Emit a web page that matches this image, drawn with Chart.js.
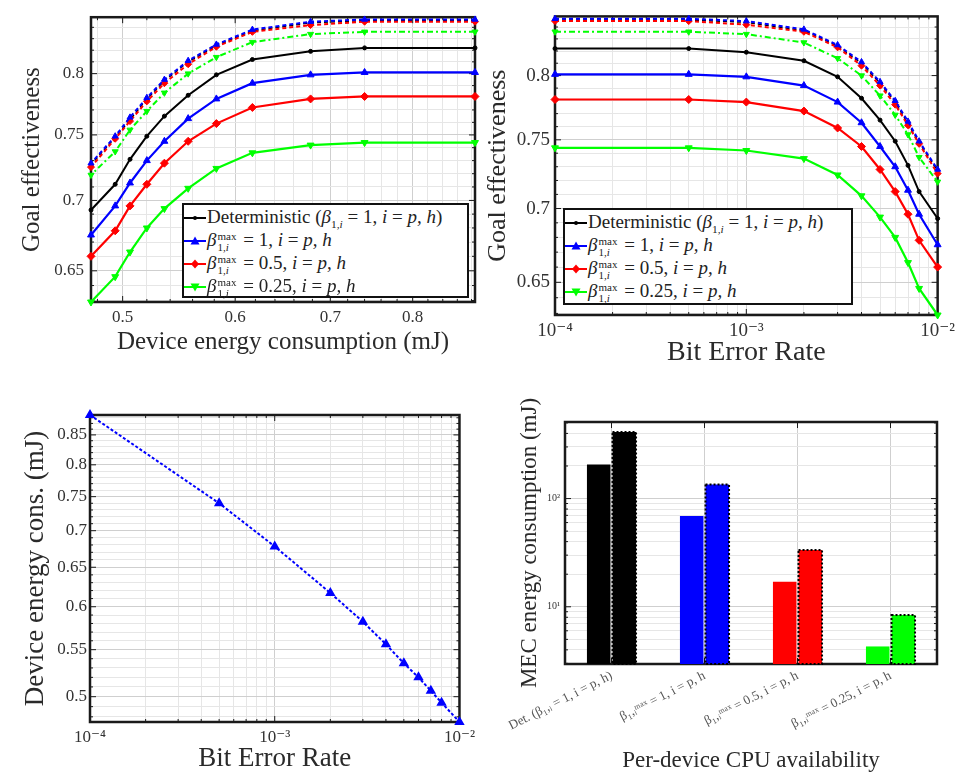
<!DOCTYPE html>
<html>
<head>
<meta charset="utf-8">
<script src="https://cdn.jsdelivr.net/npm/chart.js@4.4.1/dist/chart.umd.min.js"></script>
<style>
  body { margin: 0; background: #fff; }
  #lienzo { position: relative; width: 960px; height: 772px; overflow: hidden; font-family: "Liberation Serif", serif; }
  canvas { position: absolute; }
  .leyenda { position: absolute; border: 2px solid #111; background: #fff; box-sizing: border-box; padding: 1px 0 0 0; font-size: 19px; color: #222; }
  .fila { height: 23px; display: flex; align-items: center; white-space: nowrap; }
  .fila svg { flex: none; margin-right: 1px; }
  .ss { display: inline-flex; flex-direction: column; font-size: 0.58em; line-height: 0.95; vertical-align: middle; margin: 0 2px 0 1px; }
</style>
</head>
<body>
<div id="lienzo">
  <canvas id="chartEnergia" width="480" height="380" style="left:0;top:0"></canvas>
  <canvas id="chartBer" width="480" height="380" style="left:480px;top:0"></canvas>
  <canvas id="chartDispositivo" width="480" height="392" style="left:0;top:380px"></canvas>
  <canvas id="chartMec" width="480" height="392" style="left:480px;top:380px"></canvas>
  <div class="leyenda" id="leyenda1" style="left:182px;top:203px;width:287px;height:95px"></div>
  <div class="leyenda" id="leyenda2" style="left:563px;top:208px;width:290px;height:97px"></div>
</div>
<script>
// === Datos ===
const berValues = [1e-4, 5e-4, 1e-3, 2e-3, 3e-3, 4e-3, 5e-3, 6e-3, 7e-3, 8e-3, 1e-2];
const deviceEnergy = [0.885, 0.740, 0.678, 0.617, 0.582, 0.556, 0.535, 0.520, 0.506, 0.494, 0.475];

const goalDet = [0.822, 0.822, 0.819, 0.812, 0.799, 0.782, 0.765, 0.749, 0.731, 0.712, 0.693];
const goalBeta1 = [0.801, 0.801, 0.799, 0.792, 0.779, 0.763, 0.745, 0.730, 0.713, 0.696, 0.675];
const goalBeta05 = [0.781, 0.781, 0.779, 0.772, 0.759, 0.745, 0.728, 0.712, 0.696, 0.678, 0.660];
const goalBeta025 = [0.744, 0.744, 0.742, 0.736, 0.724, 0.709, 0.694, 0.680, 0.663, 0.646, 0.629];

const goalDetDash = [0.846, 0.846, 0.844, 0.837, 0.824, 0.810, 0.794, 0.779, 0.762, 0.748, 0.727];
const goalBeta1Dash = [0.847, 0.847, 0.845, 0.838, 0.825, 0.811, 0.795, 0.780, 0.764, 0.749, 0.728];
const goalBeta05Dash = [0.845, 0.845, 0.842, 0.836, 0.823, 0.808, 0.792, 0.777, 0.761, 0.747, 0.725];
const goalBeta025Dash = [0.836, 0.836, 0.834, 0.827, 0.814, 0.800, 0.784, 0.769, 0.754, 0.737, 0.719];

const cpuLabels = [
  "Det. (β₁,ᵢ = 1, i = p, h)",
  "β₁,ᵢᵐᵃˣ = 1, i = p, h",
  "β₁,ᵢᵐᵃˣ = 0.5, i = p, h",
  "β₁,ᵢᵐᵃˣ = 0.25, i = p, h"
];
const mecSolid = [207, 69, 17, 4.3];
const mecDotted = [412, 135, 33.5, 8.4];

const goalTicks = [0.65, 0.7, 0.75, 0.8];
const energyTicks = [0.5, 0.6, 0.7, 0.8];
const berTicks = [1e-4, 1e-3, 1e-2];
const deviceTicks = [0.5, 0.55, 0.6, 0.65, 0.7, 0.75, 0.8, 0.85];
const mecTicks = [10, 100];

// === Estilos ===
const NEGRO = "#000000", AZUL = "#0000ff", ROJO = "#ff0000", VERDE = "#00ff00";
const cpuColors = [NEGRO, AZUL, ROJO, VERDE];
const SERIF = "'Liberation Serif', 'DejaVu Serif', serif";
Chart.defaults.font.family = SERIF;
Chart.defaults.color = "#333";

const series = [
  { data: goalBeta1Dash, color: AZUL, point: "triangle", r: 3.5, rot: 0, dash: [4, 3], w: 2 },
  { data: goalBeta05Dash, color: ROJO, point: "rectRot", r: 3.5, rot: 0, dash: [4, 3], w: 2 },
  { data: goalDetDash, color: NEGRO, point: "circle", r: 1.5, rot: 0, dash: [4, 3], w: 1.5 },
  { data: goalBeta025Dash, color: VERDE, point: "triangle", r: 3.5, rot: 180, dash: [6, 3, 2, 3], w: 2 },
  { data: goalDet, color: NEGRO, point: "circle", r: 2, rot: 0, dash: [], w: 2 },
  { data: goalBeta1, color: AZUL, point: "triangle", r: 4, rot: 0, dash: [], w: 2.2 },
  { data: goalBeta05, color: ROJO, point: "rectRot", r: 4, rot: 0, dash: [], w: 2.2 },
  { data: goalBeta025, color: VERDE, point: "triangle", r: 4, rot: 180, dash: [], w: 2.2 }
];

// === Utilidades ===
function paso(a, b, s) {
  const out = [];
  for (let v = a; v <= b + 1e-9; v += s) out.push(+v.toFixed(4));
  return out;
}
function decadas(e0, e1) {
  const out = [];
  for (let e = e0; e < e1; e++) for (let k = 1; k <= 9; k++) out.push(+(k * Math.pow(10, e)).toPrecision(6));
  out.push(Math.pow(10, e1));
  return out;
}
const SUP = { "-": "⁻", "0": "⁰", "1": "¹", "2": "²", "3": "³", "4": "⁴", "5": "⁵", "6": "⁶", "7": "⁷", "8": "⁸", "9": "⁹" };
function potencia(v) {
  return "10" + String(Math.round(Math.log10(v))).split("").map(c => SUP[c]).join("");
}
function etiquetado(lista, fmt) {
  return (val) => lista.some(t => Math.abs(t - val) / t < 1e-6) ? fmt(val) : "";
}
function gridColor(lista) {
  return (ctx) => (ctx.tick && lista.some(t => Math.abs(t - ctx.tick.value) / t < 1e-6)) ? "#cfcfcf" : "#e6e6e6";
}

function ejeLog(opts) {
  return {
    type: "logarithmic",
    min: opts.min,
    max: opts.max,
    afterBuildTicks: (s) => { s.ticks = opts.grid.map(v => ({ value: v })); },
    afterFit: (s) => { if (opts.width) s.width = opts.width; if (opts.height) s.height = opts.height; },
    grid: { color: gridColor(opts.labels), drawTicks: false, lineWidth: 1 },
    border: { display: false },
    ticks: {
      autoSkip: false,
      maxRotation: 0,
      padding: opts.pad,
      font: { size: opts.tickSize },
      color: "#333",
      callback: etiquetado(opts.labels, opts.fmt)
    },
    title: {
      display: true,
      text: opts.title,
      font: { size: opts.titleSize, lineHeight: 1 },
      color: "#2a2a2a",
      padding: 0
    }
  };
}

// marco negro y marcas hacia dentro (estilo MATLAB)
const marco = {
  id: "marco",
  beforeDatasetsDraw(chart) {
    const { ctx, chartArea: a } = chart;
    ctx.save();
    ctx.strokeStyle = "#1a1a1a";
    ctx.lineWidth = 1;
    const sx = chart.scales.x, sy = chart.scales.y;
    sx.ticks.forEach((t, i) => {
      const p = sx.getPixelForTick(i);
      const len = t.label ? 6 : 3;
      ctx.beginPath();
      ctx.moveTo(p, a.bottom); ctx.lineTo(p, a.bottom - len);
      ctx.moveTo(p, a.top); ctx.lineTo(p, a.top + len);
      ctx.stroke();
    });
    sy.ticks.forEach((t, i) => {
      const p = sy.getPixelForTick(i);
      const len = t.label ? 6 : 3;
      ctx.beginPath();
      ctx.moveTo(a.left, p); ctx.lineTo(a.left + len, p);
      ctx.moveTo(a.right, p); ctx.lineTo(a.right - len, p);
      ctx.stroke();
    });
    ctx.lineWidth = 2.5;
    ctx.strokeRect(a.left, a.top, a.right - a.left, a.bottom - a.top);
    ctx.restore();
  }
};

function datasetsGoal(xs) {
  return series.map(s => ({
    data: xs.map((x, i) => ({ x: x, y: s.data[i] })),
    borderColor: s.color,
    backgroundColor: s.color,
    borderWidth: s.w,
    borderDash: s.dash,
    pointStyle: s.point,
    pointRadius: s.r,
    pointRotation: s.rot,
    pointBorderWidth: 1,
    tension: 0,
    clip: false
  }));
}

const base = {
  responsive: false,
  animation: false,
  events: [],
  plugins: { legend: { display: false }, tooltip: { enabled: false } }
};

// === Efectividad vs energia del dispositivo ===
new Chart(document.getElementById("chartEnergia"), {
  type: "line",
  data: { datasets: datasetsGoal(deviceEnergy) },
  options: Object.assign({}, base, {
    layout: { padding: { left: 20, top: 7, right: 5, bottom: 25 } },
    scales: {
      x: ejeLog({ min: 0.475, max: 0.885, grid: paso(0.48, 0.88, 0.02), labels: energyTicks, fmt: v => String(+v.toFixed(2)),
        title: "Device energy consumption (mJ)", titleSize: 25, tickSize: 17, pad: 5, height: 53 }),
      y: ejeLog({ min: 0.629, max: 0.849, grid: paso(0.63, 0.84, 0.01), labels: goalTicks, fmt: v => String(+v.toFixed(2)),
        title: "Goal effectiveness", titleSize: 25, tickSize: 17, pad: 7, width: 71 })
    }
  }),
  plugins: [marco]
});

// === Efectividad vs BER ===
new Chart(document.getElementById("chartBer"), {
  type: "line",
  data: { datasets: datasetsGoal(berValues) },
  options: Object.assign({}, base, {
    layout: { padding: { left: 5, top: 10, right: 17, bottom: 13 } },
    scales: {
      x: ejeLog({ min: 1e-4, max: 1e-2, grid: decadas(-4, -2), labels: berTicks, fmt: potencia,
        title: "Bit Error Rate", titleSize: 28, tickSize: 19, pad: 5, height: 52 }),
      y: ejeLog({ min: 0.629, max: 0.849, grid: paso(0.63, 0.84, 0.01), labels: goalTicks, fmt: v => String(+v.toFixed(2)),
        title: "Goal effectiveness", titleSize: 26, tickSize: 19, pad: 5, width: 70 })
    }
  }),
  plugins: [marco]
});

// === Energia del dispositivo vs BER ===
new Chart(document.getElementById("chartDispositivo"), {
  type: "line",
  data: {
    datasets: [{
      data: berValues.map((b, i) => ({ x: b, y: deviceEnergy[i] })),
      borderColor: AZUL,
      backgroundColor: AZUL,
      borderWidth: 2,
      borderDash: [3, 2],
      pointStyle: "triangle",
      pointRadius: 4,
      tension: 0,
      clip: false
    }]
  },
  options: Object.assign({}, base, {
    layout: { padding: { left: 22, top: 35, right: 17, bottom: 0 } },
    scales: {
      x: ejeLog({ min: 1e-4, max: 1e-2, grid: decadas(-4, -2), labels: berTicks, fmt: potencia,
        title: "Bit Error Rate", titleSize: 27, tickSize: 17, pad: 5, height: 50 }),
      y: ejeLog({ min: 0.475, max: 0.885, grid: paso(0.48, 0.88, 0.01), labels: deviceTicks, fmt: v => String(+v.toFixed(2)),
        title: "Device energy cons. (mJ)", titleSize: 27, tickSize: 17, pad: 3, width: 68 })
    }
  }),
  plugins: [marco]
});

// === Energia MEC (barras) ===
const bordePunteado = {
  id: "bordePunteado",
  afterDatasetsDraw(chart) {
    const ctx = chart.ctx;
    const meta = chart.getDatasetMeta(1);
    ctx.save();
    ctx.strokeStyle = "#000";
    ctx.lineWidth = 2;
    ctx.setLineDash([2, 2]);
    meta.data.forEach(bar => {
      const p = bar.getProps(["x", "y", "base", "width"], true);
      ctx.strokeRect(p.x - p.width / 2, p.y, p.width, p.base - p.y);
    });
    ctx.restore();
  }
};

const ejeMec = ejeLog({ min: 2.96, max: 510, grid: decadas(0, 2).filter(v => v >= 3 && v <= 500).concat([200, 300, 400, 500]).filter((v, i, a) => a.indexOf(v) === i),
  labels: mecTicks, fmt: potencia, title: "MEC energy consumption (mJ)", titleSize: 23, tickSize: 10, pad: 5, width: 47 });

new Chart(document.getElementById("chartMec"), {
  type: "bar",
  data: {
    labels: cpuLabels,
    datasets: [
      { data: mecSolid, backgroundColor: cpuColors, borderWidth: 0, categoryPercentage: 0.55, barPercentage: 0.92 },
      { data: mecDotted, backgroundColor: cpuColors, borderWidth: 0, categoryPercentage: 0.55, barPercentage: 0.92 }
    ]
  },
  options: Object.assign({}, base, {
    layout: { padding: { left: 38, top: 42, right: 23, bottom: 0 } },
    scales: {
      x: {
        type: "category",
        offset: true,
        afterFit: (s) => { s.height = 108; },
        grid: { offset: false, color: "#cfcfcf", drawTicks: false },
        border: { display: false },
        ticks: { autoSkip: false, minRotation: 27, maxRotation: 27, padding: 4, font: { size: 13 }, color: "#555" },
        title: { display: true, text: "Per-device CPU availability", font: { size: 23, lineHeight: 1 }, color: "#2a2a2a", padding: 0 }
      },
      y: ejeMec
    }
  }),
  plugins: [marco, bordePunteado]
});

// === Leyendas (recuadro dentro del area) ===
const marcadores = {
  circle: '<circle cx="11" cy="6" r="2"/>',
  triangle: '<polygon points="11,1.5 15.5,9.5 6.5,9.5"/>',
  rectRot: '<polygon points="11,1.5 15,6 11,10.5 7,6"/>',
  down: '<polygon points="6.5,2.5 15.5,2.5 11,10.5"/>'
};
const entradas = [
  { color: NEGRO, m: "circle", html: 'Deterministic (<i>β</i><sub style="font-size:0.6em">1,<i>i</i></sub> = 1, <i>i</i> = <i>p, h</i>)' },
  { color: AZUL, m: "triangle", html: '<i>β</i><span class="ss"><span>max</span><span>1,<i>i</i></span></span> = 1, <i>i</i> = <i>p, h</i>' },
  { color: ROJO, m: "rectRot", html: '<i>β</i><span class="ss"><span>max</span><span>1,<i>i</i></span></span> = 0.5, <i>i</i> = <i>p, h</i>' },
  { color: VERDE, m: "down", html: '<i>β</i><span class="ss"><span>max</span><span>1,<i>i</i></span></span> = 0.25, <i>i</i> = <i>p, h</i>' }
];
["leyenda1", "leyenda2"].forEach(id => {
  document.getElementById(id).innerHTML = entradas.map(e =>
    '<div class="fila"><svg width="22" height="12" fill="' + e.color + '"><line x1="0" y1="6" x2="22" y2="6" stroke="' + e.color + '" stroke-width="2"/>' +
    marcadores[e.m] + '</svg><span>' + e.html + '</span></div>'
  ).join("");
});
</script>
</body>
</html>
